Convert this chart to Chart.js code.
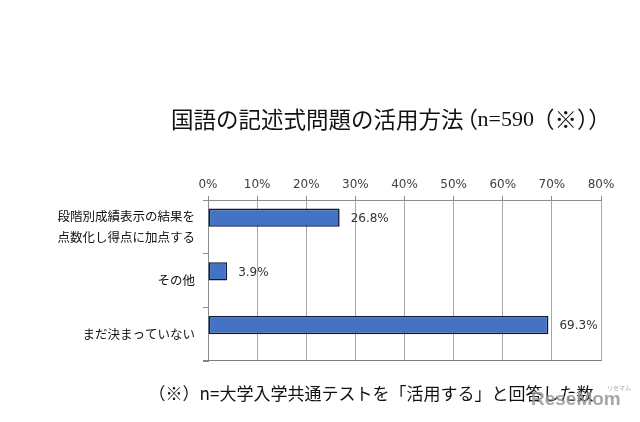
<!DOCTYPE html>
<html lang="ja">
<head>
  <meta charset="UTF-8">
  <title>国語の記述式問題の活用方法</title>
  <script src="https://cdn.jsdelivr.net/npm/chart.js"></script>
  <style>
    body {
      margin: 0;
      padding: 0;
      background-color: #fff;
    }
    #grafico {
      display: block;
    }
  </style>
</head>
<body>
  <canvas id="grafico" width="640" height="422"></canvas>

  <script>
    var categorias = [
      ['段階別成績表示の結果を', '点数化し得点に加点する'],
      'その他',
      'まだ決まっていない'
    ];
    var porcentajes = [26.8, 3.9, 69.3];
    var vacio = [null, null, null];
    var ticksX = [0, 10, 20, 30, 40, 50, 60, 70, 80];

    var titulo = '国語の記述式問題の活用方法';
    var tituloN = ['（', 'n=590', '（※））'];
    var nota = '（※）n=大学入学共通テストを「活用する」と回答した数';

    var fuenteJP = '"Noto Sans CJK JP", "Noto Sans", sans-serif';
    var fuenteSerif = '"Liberation Serif", "DejaVu Serif", serif';
    var fuenteNum = '"DejaVu Sans", sans-serif';

    // textos: titulo, nota y marca de agua
    var pluginTextos = {
      id: 'textos',
      afterDraw: function (chart) {
        var ctx = chart.ctx;
        var area = chart.chartArea;
        ctx.save();

        // linea inferior del area del grafico (con su marca a la izquierda)
        var yb = Math.round(area.bottom) - 0.5;
        ctx.strokeStyle = '#7f7f7f';
        ctx.lineWidth = 1;
        ctx.beginPath();
        ctx.moveTo(area.left - 5, yb);
        ctx.lineTo(area.right + 0.5, yb);
        ctx.stroke();

        ctx.fillStyle = '#111';
        ctx.textBaseline = 'middle';
        ctx.textAlign = 'left';

        // titulo en partes: texto japones + (n=590) con cifras en serif
        var x = 171;
        ctx.font = '22.5px ' + fuenteJP;
        ctx.fillText(titulo, x, 119);
        x += ctx.measureText(titulo).width;
        ctx.fillText(tituloN[0], x - 8, 119);
        x += 14;
        ctx.font = '22px ' + fuenteSerif;
        ctx.fillText(tituloN[1], x, 120);
        x += ctx.measureText(tituloN[1]).width - 2;
        ctx.font = '22.5px ' + fuenteJP;
        ctx.fillText(tituloN[2], x, 119);

        ctx.textAlign = 'center';
        ctx.font = '17px ' + fuenteJP;
        ctx.fillText(nota, 371, 394);

        ctx.fillStyle = 'rgba(150,150,150,0.85)';
        ctx.font = 'bold 19px "Liberation Sans", sans-serif';
        ctx.textAlign = 'left';
        ctx.fillText('ReseMom', 531, 400);
        ctx.font = '6px ' + fuenteJP;
        ctx.fillText('リセマム', 607, 388);
        ctx.restore();
      }
    };

    // etiquetas de valor a la derecha de cada barra
    var pluginEtiquetas = {
      id: 'etiquetas',
      afterDatasetsDraw: function (chart) {
        var ctx = chart.ctx;
        var meta = chart.getDatasetMeta(0);
        ctx.save();
        ctx.fillStyle = '#333';
        ctx.font = '12px ' + fuenteNum;
        ctx.textAlign = 'left';
        ctx.textBaseline = 'middle';
        meta.data.forEach(function (bar, i) {
          ctx.fillText(porcentajes[i].toFixed(1) + '%', bar.x + 11, bar.y + 1);
        });
        ctx.restore();
      }
    };

    var grafico = new Chart(document.getElementById('grafico'), {
      type: 'bar',
      data: {
        labels: categorias,
        datasets: [{
          data: porcentajes,
          backgroundColor: '#4472C4',
          borderColor: '#111a33',
          borderWidth: 1.6,
          borderSkipped: false,
          barPercentage: 1.0,
          categoryPercentage: 0.68
        }, {
          data: vacio,
          backgroundColor: 'transparent',
          barPercentage: 1.0,
          categoryPercentage: 0.68
        }]
      },
      options: {
        indexAxis: 'y',
        responsive: false,
        animation: false,
        layout: {
          padding: { left: 0, right: 39, top: 0, bottom: 61 }
        },
        plugins: {
          legend: { display: false },
          tooltip: { enabled: false }
        },
        scales: {
          x: {
            position: 'top',
            min: 0,
            max: 80,
            afterBuildTicks: function (scale) {
              scale.ticks = ticksX.map(function (v) { return { value: v }; });
            },
            afterFit: function (scale) {
              scale.height = 200;
            },
            ticks: {
              color: '#404040',
              font: { family: fuenteNum, size: 12 },
              padding: 4,
              callback: function (v) { return v + '%'; }
            },
            grid: {
              color: '#a6a6a6',
              lineWidth: 1,
              tickLength: 4,
              tickColor: '#8c8c8c'
            },
            border: { color: '#8c8c8c', width: 1 }
          },
          y: {
            afterFit: function (scale) {
              scale.width = 208;
            },
            ticks: {
              color: '#111',
              font: { family: fuenteJP, size: 12.5, lineHeight: 1.7 },
              padding: 8
            },
            grid: {
              offset: true,
              drawOnChartArea: false,
              tickLength: 5,
              tickColor: '#8c8c8c'
            },
            border: { color: '#8c8c8c', width: 1 }
          }
        }
      },
      plugins: [pluginTextos, pluginEtiquetas]
    });
  </script>
</body>
</html>
